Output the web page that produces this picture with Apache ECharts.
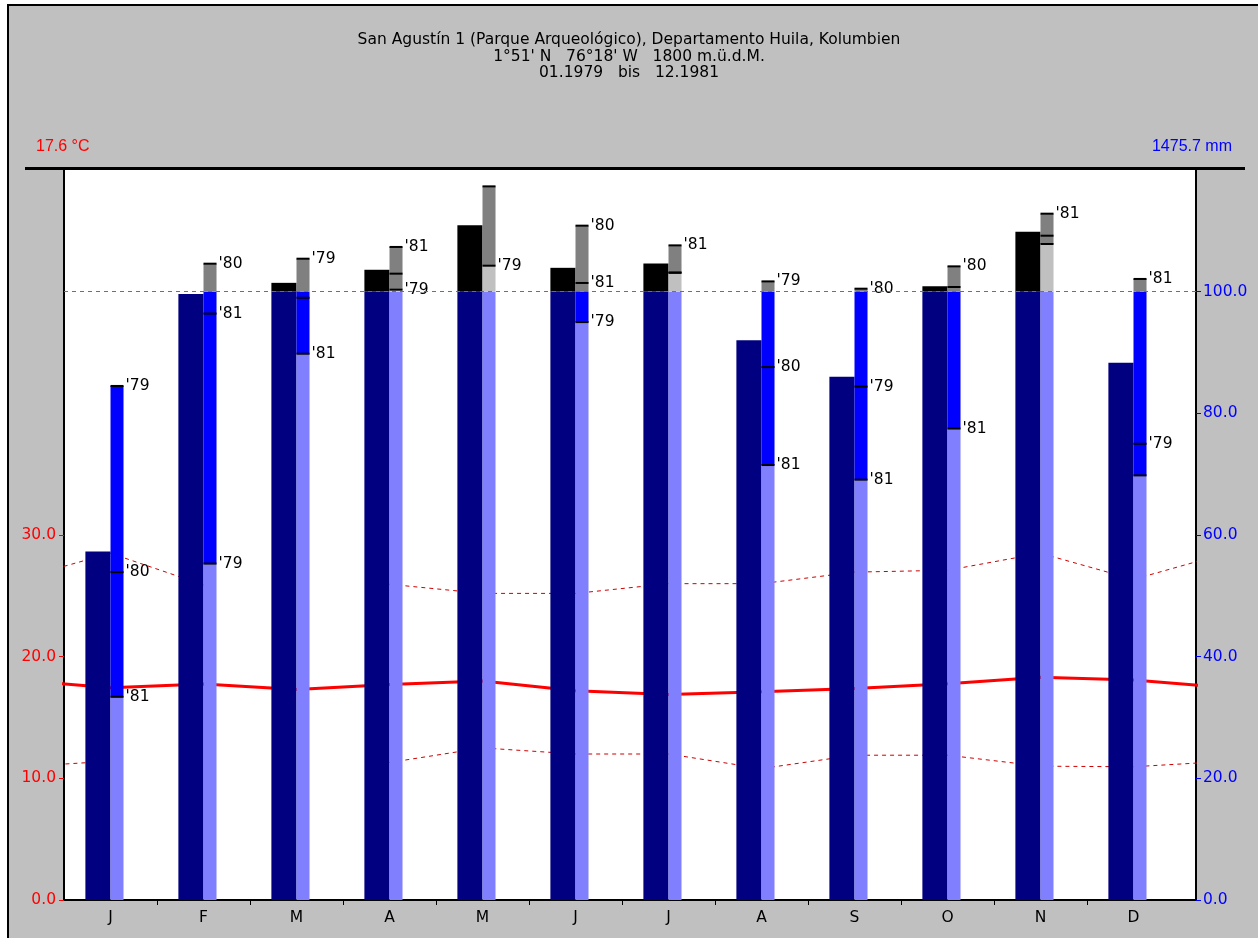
<!DOCTYPE html>
<html>
<head>
<meta charset="utf-8">
<script src="https://cdn.jsdelivr.net/npm/echarts@6/dist/echarts.min.js"></script>
<style>
  html, body { margin: 0; padding: 0; background: #ffffff; }
  #chart { width: 1258px; height: 938px; }
</style>
</head>
<body>
<div id="chart"></div>
<script>
// Climate diagram San Agustín 1 (1979–1981): monthly precipitation (mm) and temperature (°C)
const months = ['J', 'F', 'M', 'A', 'M', 'J', 'J', 'A', 'S', 'O', 'N', 'D'];

// mean monthly temperature and mean daily maximum / minimum (°C); null = no data
const tempMean = [17.45, 17.75, 17.3, 17.72, 18.0, 17.2, 16.9, 17.12, 17.38, 17.78, 18.3, 18.08];
const tempMaxMean = [28.5, 25.9, null, 25.95, 25.2, 25.2, 26.0, 26.0, 26.95, 27.1, 28.5, 26.35];
const tempMinMean = [11.4, null, null, 11.3, 12.5, 12.0, 12.0, 10.8, 11.9, 11.9, 11.0, 10.95];

// mean monthly precipitation (mm) and the individual years
const precipMean = [57.3, 99.6, 114.5, 136.0, 209.0, 139.2, 146.3, 92.0, 86.0, 108.9, 198.6, 88.3];
const precip1979 = [84.5, 55.3, 154.2, 103.3, 142.7, 95.0, 131.0, 116.9, 84.4, 107.7, 192.0, 75.0];
const precip1980 = [53.9, 146.0, 99.0, 129.6, 273.1, 208.5, 131.5, 87.6, 104.9, 141.6, 178.4, 69.8];
const precip1981 = [33.4, 96.4, 89.8, 173.5, null, 114.3, 176.1, 71.5, 69.1, 77.5, 228.2, 120.9];

// which year marks carry a text tag (1 = tagged)
const yearTags = ["'79", "'80", "'81"];
const tagged1979 = [1, 1, 1, 1, 1, 1, 0, 1, 1, 0, 0, 1];
const tagged1980 = [1, 1, 0, 0, 0, 1, 0, 1, 1, 1, 0, 0];
const tagged1981 = [1, 1, 1, 1, 0, 1, 1, 1, 1, 1, 1, 1];

// axis tick values
const tempTicks = [0, 10, 20, 30];
const precipTicks = [0, 20, 40, 60, 80, 100];

const annualTemp = '17.6 °C';
const annualPrecip = '1475.7 mm';
const titleLines = [
  'San Agustín 1 (Parque Arqueológico), Departamento Huila, Kolumbien',
  "1°51' N   76°18' W   1800 m.ü.d.M.",
  '01.1979   bis   12.1981'
];

const FONT = 'DejaVu Sans';
const FS = 15.5;
const taggedByYear = [tagged1979, tagged1980, tagged1981];

// precipitation above 100 mm is drawn at one tenth of the scale
const toScale = v => (v <= 100 ? v : 100 + (v - 100) / 10);
const isVal = v => v !== null && v !== undefined && !isNaN(v);

// line data wrapped with the neighbouring months so the curve runs to both plot edges
const wrapYear = arr => [[-0.5, arr[11]]].concat(arr.map((v, i) => [i + 0.5, v]), [[12.5, arr[0]]]);

function renderPrecip(params, api) {
  const i = api.value(0);
  const mean = api.value(1);
  const yearVals = [api.value(2), api.value(3), api.value(4)];
  const monthW = api.size([1, 0])[0];
  const base = api.coord([i + 0.5, 0]);
  const cx = base[0];
  const y0 = base[1];
  const py = v => api.coord([i + 0.5, toScale(v)])[1];
  const meanW = monthW * 0.27;
  const rangeW = monthW * 0.14;
  const children = [];
  const rect = (x, yTop, w, yBot, fill) => {
    children.push({ type: 'rect', shape: { x: x, y: yTop, width: w, height: yBot - yTop }, style: { fill: fill } });
  };

  // mean precipitation column: blue up to 100 mm, black beyond
  rect(cx - meanW, py(Math.min(mean, 100)), meanW, y0, '#000080');
  if (mean > 100) rect(cx - meanW, py(mean), meanW, py(100), '#000000');

  // range column of the individual years
  const vals = yearVals.filter(isVal);
  const lo = Math.min.apply(null, vals);
  const hi = Math.max.apply(null, vals);
  rect(cx, py(Math.min(lo, 100)), rangeW, y0, '#8080ff');
  if (lo < 100) rect(cx, py(Math.min(hi, 100)), rangeW, py(lo), '#0000ff');
  if (lo > 100) rect(cx, py(lo), rangeW, py(100), '#c0c0c0');
  if (hi > 100) rect(cx, py(hi), rangeW, py(Math.max(lo, 100)), '#808080');

  yearVals.forEach((v, k) => {
    if (!isVal(v)) return;
    const ty = py(v);
    children.push({ type: 'rect', shape: { x: cx, y: ty - 1, width: rangeW, height: 2 }, style: { fill: '#000000' } });
    if (taggedByYear[k][i]) {
      children.push({
        type: 'text',
        style: { text: yearTags[k], x: cx + rangeW + 2, y: ty, align: 'left', verticalAlign: 'middle',
                 fill: '#000000', font: FS + 'px "' + FONT + '"' }
      });
    }
  });
  return { type: 'group', children: children };
}

const precipData = months.map((m, i) => [i, precipMean[i], precip1979[i], precip1980[i], precip1981[i]]);

const textEl = (text, x, y, align, color, font) => ({
  type: 'text', x: x, y: y,
  style: { text: text, align: align, verticalAlign: 'middle', fill: color, font: font || (FS + 'px "' + FONT + '"') }
});

const chart = echarts.init(document.getElementById('chart'), null, { renderer: 'canvas' });
chart.setOption({
  animation: false,
  backgroundColor: '#c0c0c0',
  textStyle: { fontFamily: FONT },
  grid: {
    left: 64, right: 62, top: 170, bottom: 38,
    show: true, backgroundColor: '#ffffff', borderWidth: 0,
    containLabel: false, outerBoundsMode: 'none'
  },
  graphic: [
    { type: 'rect', shape: { x: 0, y: 0, width: 1258, height: 4 }, style: { fill: '#ffffff' } },
    { type: 'rect', shape: { x: 0, y: 0, width: 7, height: 938 }, style: { fill: '#ffffff' } },
    { type: 'line', shape: { x1: 7, y1: 5, x2: 1258, y2: 5 }, style: { stroke: '#000000', lineWidth: 2 } },
    { type: 'line', shape: { x1: 8, y1: 4, x2: 8, y2: 938 }, style: { stroke: '#000000', lineWidth: 2 } },
    { type: 'line', shape: { x1: 25, y1: 168.5, x2: 1245, y2: 168.5 }, style: { stroke: '#000000', lineWidth: 3 } },
    textEl(titleLines[0], 629, 40, 'center', '#000000'),
    textEl(titleLines[1], 629, 57, 'center', '#000000'),
    textEl(titleLines[2], 629, 73, 'center', '#000000'),
    textEl(annualTemp, 36, 147, 'left', '#ff0000', '16px "Liberation Sans"'),
    textEl(annualPrecip, 1232, 147, 'right', '#0000ff', '16px "Liberation Sans"')
  ],
  xAxis: {
    type: 'value', min: 0, max: 12 + 16 / 93,
    axisLine: { show: true, onZero: false, lineStyle: { color: '#000000', width: 2 } },
    axisTick: { show: true, length: 5, customValues: months.slice(1).map((m, i) => i + 1),
                lineStyle: { color: '#000000', width: 1 } },
    axisLabel: { show: true, customValues: months.map((m, i) => i + 0.5),
                 formatter: v => months[Math.floor(v)], color: '#000000',
                 fontFamily: FONT, fontSize: FS, margin: 10 },
    splitLine: { show: false }
  },
  yAxis: [
    {
      type: 'value', position: 'left', min: 0, max: 60,
      axisLine: { show: true, onZero: false, lineStyle: { color: '#000000', width: 2 } },
      axisTick: { show: true, length: 5, customValues: tempTicks, lineStyle: { color: '#ff0000' } },
      axisLabel: { show: true, customValues: tempTicks, formatter: v => v.toFixed(1),
                   color: '#ff0000', fontFamily: FONT, fontSize: FS, margin: 8 },
      splitLine: { show: false }
    },
    {
      type: 'value', position: 'right', min: 0, max: 120,
      axisLine: { show: true, onZero: false, lineStyle: { color: '#000000', width: 2 } },
      axisTick: { show: true, length: 5, customValues: precipTicks, lineStyle: { color: '#0000ff' } },
      axisLabel: { show: true, customValues: precipTicks, formatter: v => v.toFixed(1),
                   color: '#0000ff', fontFamily: FONT, fontSize: FS, margin: 7 },
      splitLine: { show: false }
    }
  ],
  series: [
    {
      // 100 mm reference
      type: 'line', yAxisIndex: 1, data: [], z: 1, silent: true,
      markLine: {
        silent: true, symbol: 'none', label: { show: false },
        lineStyle: { color: '#707070', type: [4, 4], width: 1 },
        data: [{ yAxis: 100 }]
      }
    },
    {
      type: 'line', yAxisIndex: 0, data: wrapYear(tempMaxMean), z: 2,
      symbol: 'none', connectNulls: false, clip: true,
      lineStyle: { color: '#cc0000', width: 1, type: [4, 4] }
    },
    {
      type: 'line', yAxisIndex: 0, data: wrapYear(tempMinMean), z: 2,
      symbol: 'none', connectNulls: false, clip: true,
      lineStyle: { color: '#cc0000', width: 1, type: [4, 4] }
    },
    {
      type: 'line', yAxisIndex: 0, data: wrapYear(tempMean), z: 2,
      symbol: 'none', clip: true,
      lineStyle: { color: '#ff0000', width: 3 }
    },
    {
      type: 'custom', yAxisIndex: 1, z: 3,
      renderItem: renderPrecip,
      encode: { x: 0, y: 1 },
      data: precipData
    }
  ]
});
</script>
</body>
</html>
